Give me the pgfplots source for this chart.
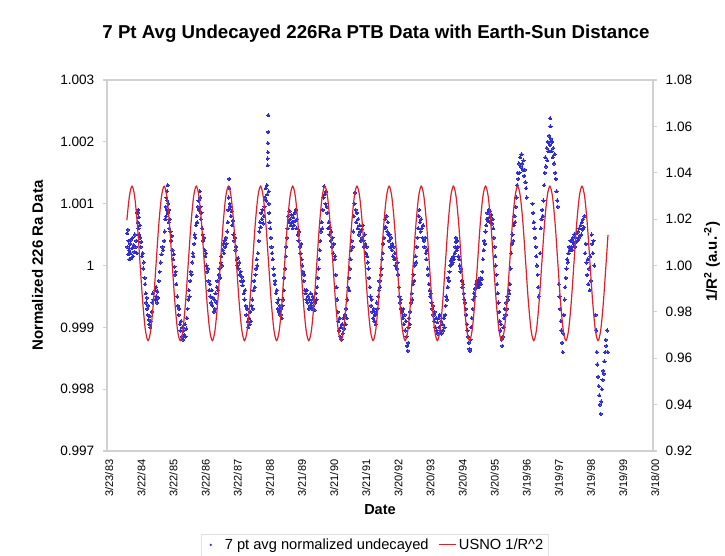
\documentclass[border=0pt]{standalone}
\usepackage{fontspec}
\setmainfont{Liberation Sans}
\usepackage{pgfplots}
\pgfplotsset{compat=1.18}
\definecolor{bluedot}{RGB}{45,45,210}
\definecolor{redline}{RGB}{222,32,44}
\definecolor{framegray}{RGB}{208,208,208}
\begin{document}
\begin{tikzpicture}
\path[use as bounding box] (-80.25pt,-78.75pt) rectangle (463.5pt,338.25pt);
\begin{axis}[
  at={(0,0)}, anchor=south west,
  width=409.5pt, height=278.25pt, scale only axis,
  xmin=1983.222, xmax=2000.210, ymin=0.997, ymax=1.003,
  xtick={1983.222,1984.221,1985.221,1986.220,1987.219,1988.219,1989.218,1990.217,1991.217,1992.216,1993.215,1994.215,1995.214,1996.213,1997.213,1998.212,1999.211,2000.210},
  xticklabels={3/23/83,3/22/84,3/22/85,3/22/86,3/22/87,3/21/88,3/21/89,3/21/90,3/21/91,3/20/92,3/20/93,3/20/94,3/20/95,3/19/96,3/19/97,3/19/98,3/19/99,3/18/00},
  ytick={0.997,0.998,0.999,1,1.001,1.002,1.003},
  yticklabels={0.997,0.998,0.999,1,1.001,1.002,1.003},
  ytick pos=left, xtick pos=bottom,
  tick align=outside, major tick length=3pt,
  axis line style={framegray, line width=0.8pt},
  ytick style={framegray, line width=0.8pt},
  xtick style={draw=none},
  yticklabel style={font=\fontsize{10.2}{12}\selectfont, xshift=-3pt},
  xticklabel style={rotate=90, anchor=east, font=\fontsize{8.25}{9}\selectfont, yshift=-1.7pt},
  legend style={at={(0.49,-0.253)}, anchor=center, legend columns=2, draw=black!12,
    font=\fontsize{11}{13}\selectfont, inner sep=1.5pt,
    /tikz/every even column/.append style={column sep=5pt}},
  legend cell align=left,
]
\addplot[only marks, mark=*, mark size=1.2pt, color=bluedot, mark options={fill=bluedot, draw=bluedot, line width=0pt},
  legend image code/.code={\path[draw=none, fill=none] (0cm,-0.05cm) rectangle (0.5cm,0.05cm); \fill[bluedot, draw=none] (0.2cm,0cm) circle (0.9pt);}] coordinates {
(1983.85,1.00052) (1983.86,1.00030) (1983.87,1.00058) (1983.88,1.00018) (1983.89,1.00040) (1983.91,1.00025) (1983.92,1.00010) (1983.94,1.00035) (1983.95,1.00020) (1983.97,1.00042) (1983.98,1.00012) (1984.00,1.00028) (1984.02,1.00045) (1984.03,1.00015) (1984.05,1.00033) (1984.07,1.00022) (1984.09,1.00050) (1984.11,1.00030) (1984.13,1.00040) (1984.15,1.00020)
(1984.17,1.00085) (1984.18,1.00070) (1984.19,1.00090) (1984.20,1.00060) (1984.21,1.00078) (1984.22,1.00050) (1984.24,1.00065) (1984.25,1.00045)
(1984.27,1.00030) (1984.29,1.00038) (1984.31,1.00015) (1984.33,1.00020) (1984.35,0.99995) (1984.37,1.00005) (1984.39,0.99980) (1984.41,0.99970)
(1984.43,0.99955) (1984.44,0.99940) (1984.46,0.99948) (1984.47,0.99930) (1984.49,0.99920) (1984.50,0.99935) (1984.52,0.99912) (1984.54,0.99905) (1984.55,0.99918) (1984.57,0.99900) (1984.59,0.99910) (1984.61,0.99925)
(1984.63,0.99940) (1984.65,0.99955) (1984.67,0.99945)
(1984.72,0.99960) (1984.73,0.99945) (1984.75,0.99965) (1984.76,0.99950) (1984.78,0.99940) (1984.79,0.99958) (1984.81,0.99948)
(1984.83,0.99975) (1984.86,0.99990) (1984.89,1.00005) (1984.92,1.00018) (1984.95,1.00030) (1984.97,1.00025) (1985.00,1.00040) (1985.02,1.00055)
(1985.04,1.00075) (1985.05,1.00095) (1985.06,1.00080) (1985.07,1.00110) (1985.08,1.00090) (1985.09,1.00120) (1985.10,1.00105) (1985.11,1.00130) (1985.12,1.00085) (1985.13,1.00100) (1985.14,1.00070) (1985.15,1.00090) (1985.16,1.00060) (1985.18,1.00075)
(1985.20,1.00055) (1985.22,1.00040) (1985.24,1.00048) (1985.26,1.00025) (1985.28,1.00010) (1985.30,1.00018) (1985.32,0.99998) (1985.34,0.99985) (1985.36,0.99990) (1985.38,0.99970)
(1985.41,0.99950) (1985.43,0.99935) (1985.45,0.99920) (1985.47,0.99930) (1985.49,0.99905) (1985.51,0.99895) (1985.53,0.99910) (1985.55,0.99885) (1985.57,0.99900) (1985.59,0.99880) (1985.61,0.99895) (1985.63,0.99888) (1985.65,0.99905) (1985.67,0.99885) (1985.69,0.99898) (1985.71,0.99915)
(1985.73,0.99930) (1985.75,0.99945) (1985.77,0.99960) (1985.79,0.99950) (1985.81,0.99975) (1985.83,0.99990) (1985.85,0.99985) (1985.87,1.00005) (1985.89,1.00020) (1985.91,1.00015) (1985.93,1.00035) (1985.95,1.00050) (1985.97,1.00045) (1985.99,1.00065) (1986.01,1.00080) (1986.03,1.00070) (1986.05,1.00095) (1986.07,1.00105) (1986.09,1.00090) (1986.11,1.00120) (1986.12,1.00110)
(1986.13,1.00095) (1986.14,1.00075) (1986.16,1.00085) (1986.18,1.00060) (1986.20,1.00050) (1986.22,1.00040) (1986.24,1.00045) (1986.26,1.00025) (1986.28,1.00015) (1986.30,1.00020) (1986.32,1.00000) (1986.34,0.99990) (1986.36,0.99995) (1986.38,0.99975) (1986.40,0.99960) (1986.42,0.99970)
(1986.44,0.99950) (1986.46,0.99940) (1986.48,0.99960) (1986.50,0.99935) (1986.52,0.99948) (1986.54,0.99925) (1986.56,0.99945) (1986.58,0.99930) (1986.60,0.99955) (1986.62,0.99940) (1986.64,0.99965)
(1986.66,0.99975) (1986.68,0.99960) (1986.70,0.99985) (1986.72,0.99995) (1986.74,0.99980) (1986.76,1.00005) (1986.78,1.00015) (1986.80,1.00000) (1986.82,1.00025) (1986.84,1.00035) (1986.86,1.00020) (1986.88,1.00040) (1986.90,1.00030) (1986.92,1.00045) (1986.94,1.00035) (1986.96,1.00055) (1986.98,1.00070) (1987.00,1.00090) (1987.01,1.00110) (1987.02,1.00140) (1987.03,1.00125) (1987.04,1.00100)
(1987.06,1.00095) (1987.08,1.00080) (1987.10,1.00088) (1987.12,1.00065) (1987.14,1.00072) (1987.16,1.00050) (1987.18,1.00040) (1987.20,1.00045) (1987.22,1.00025) (1987.24,1.00030) (1987.26,1.00010) (1987.28,1.00000)
(1987.30,1.00012) (1987.32,0.99995) (1987.34,1.00005) (1987.36,0.99985) (1987.38,0.99990) (1987.40,0.99975) (1987.42,0.99982) (1987.44,0.99968) (1987.46,0.99975)
(1987.48,0.99955) (1987.50,0.99945) (1987.52,0.99960) (1987.54,0.99935) (1987.56,0.99920) (1987.58,0.99930) (1987.60,0.99910) (1987.62,0.99900) (1987.64,0.99915) (1987.66,0.99905) (1987.68,0.99925) (1987.70,0.99910) (1987.72,0.99935) (1987.74,0.99945) (1987.76,0.99930)
(1987.78,0.99960) (1987.80,0.99975) (1987.82,0.99965) (1987.84,0.99985) (1987.86,0.99995) (1987.88,1.00010) (1987.90,1.00000) (1987.92,1.00020)
(1987.94,1.00040) (1987.96,1.00055) (1987.98,1.00070) (1988.00,1.00062) (1988.02,1.00085) (1988.04,1.00075) (1988.06,1.00090) (1988.08,1.00068) (1988.10,1.00080)
(1988.12,1.00095) (1988.14,1.00110) (1988.16,1.00125) (1988.18,1.00105) (1988.20,1.00130) (1988.21,1.00115) (1988.22,1.00162) (1988.22,1.00173) (1988.23,1.00183) (1988.23,1.00198) (1988.24,1.00216) (1988.24,1.00243) (1988.25,1.00120) (1988.26,1.00100)
(1988.27,1.00085) (1988.28,1.00070) (1988.30,1.00060) (1988.32,1.00045) (1988.34,1.00030) (1988.36,1.00020) (1988.38,1.00010) (1988.40,0.99995)
(1988.42,0.99985) (1988.44,0.99970) (1988.46,0.99975) (1988.48,0.99955) (1988.50,0.99960) (1988.52,0.99940) (1988.54,0.99930) (1988.56,0.99945) (1988.58,0.99925) (1988.60,0.99935) (1988.62,0.99920) (1988.64,0.99930) (1988.66,0.99915) (1988.68,0.99935) (1988.70,0.99945)
(1988.72,0.99960) (1988.74,0.99980) (1988.76,0.99995) (1988.78,1.00015) (1988.80,1.00030) (1988.82,1.00045)
(1988.84,1.00060) (1988.86,1.00080) (1988.88,1.00070) (1988.90,1.00088) (1988.92,1.00075) (1988.94,1.00065) (1988.96,1.00082) (1988.98,1.00070) (1989.00,1.00060) (1989.02,1.00078) (1989.04,1.00065)
(1989.06,1.00085) (1989.08,1.00072) (1989.10,1.00090) (1989.12,1.00060) (1989.14,1.00075) (1989.16,1.00050) (1989.18,1.00040) (1989.20,1.00055) (1989.22,1.00030) (1989.24,1.00020) (1989.26,1.00035) (1989.28,1.00010) (1989.30,1.00000)
(1989.32,0.99990) (1989.34,0.99975) (1989.36,0.99985) (1989.38,0.99960) (1989.40,0.99955) (1989.42,0.99945) (1989.44,0.99960) (1989.46,0.99940) (1989.48,0.99950) (1989.50,0.99930) (1989.52,0.99945)
(1989.54,0.99935) (1989.56,0.99955) (1989.58,0.99940) (1989.60,0.99930) (1989.62,0.99950) (1989.64,0.99935) (1989.66,0.99945) (1989.68,0.99928) (1989.70,0.99940) (1989.72,0.99955) (1989.74,0.99945)
(1989.76,0.99965) (1989.78,0.99980) (1989.80,0.99995) (1989.82,1.00010) (1989.84,1.00025) (1989.86,1.00040) (1989.88,1.00055) (1989.90,1.00070) (1989.92,1.00060)
(1989.94,1.00090) (1989.96,1.00110) (1989.98,1.00128) (1990.00,1.00115) (1990.02,1.00100) (1990.04,1.00120) (1990.06,1.00095) (1990.08,1.00085)
(1990.10,1.00060) (1990.12,1.00070) (1990.14,1.00050) (1990.16,1.00062) (1990.18,1.00040) (1990.20,1.00055) (1990.22,1.00030) (1990.24,1.00045) (1990.26,1.00020) (1990.28,1.00035) (1990.30,1.00010) (1990.32,1.00015)
(1990.34,0.99985) (1990.36,0.99965) (1990.38,0.99945) (1990.40,0.99925) (1990.42,0.99910)
(1990.44,0.99895) (1990.46,0.99915) (1990.48,0.99885) (1990.50,0.99900) (1990.52,0.99880) (1990.54,0.99905) (1990.56,0.99890) (1990.58,0.99915) (1990.60,0.99898) (1990.62,0.99920) (1990.64,0.99905) (1990.66,0.99930) (1990.68,0.99915)
(1990.70,0.99945) (1990.72,0.99965) (1990.74,0.99980) (1990.76,0.99960) (1990.78,0.99995) (1990.80,1.00010) (1990.82,1.00025) (1990.84,1.00040) (1990.86,1.00030)
(1990.88,1.00055) (1990.90,1.00080) (1990.92,1.00100) (1990.94,1.00118) (1990.96,1.00090) (1990.98,1.00070) (1991.00,1.00085) (1991.02,1.00060) (1991.04,1.00075) (1991.06,1.00050) (1991.08,1.00065)
(1991.10,1.00055) (1991.12,1.00040) (1991.14,1.00058) (1991.16,1.00045) (1991.18,1.00065) (1991.20,1.00040) (1991.22,1.00030) (1991.24,1.00050) (1991.26,1.00035) (1991.28,1.00020) (1991.30,1.00030) (1991.32,1.00015) (1991.34,1.00005) (1991.36,0.99995)
(1991.38,0.99980) (1991.40,0.99965) (1991.42,0.99950) (1991.44,0.99935) (1991.46,0.99945) (1991.48,0.99925) (1991.50,0.99915) (1991.52,0.99930) (1991.54,0.99910) (1991.56,0.99920) (1991.58,0.99905) (1991.60,0.99925) (1991.62,0.99940) (1991.64,0.99930) (1991.66,0.99950)
(1991.68,0.99960) (1991.70,0.99975) (1991.72,0.99965) (1991.74,0.99985) (1991.76,0.99995) (1991.78,1.00010) (1991.80,1.00020) (1991.82,1.00035)
(1991.84,1.00045) (1991.86,1.00060) (1991.88,1.00075) (1991.90,1.00062) (1991.92,1.00080) (1991.94,1.00055) (1991.96,1.00070) (1991.98,1.00050)
(1992.00,1.00040) (1992.02,1.00050) (1992.04,1.00030) (1992.06,1.00045) (1992.08,1.00025) (1992.10,1.00035) (1992.12,1.00015) (1992.14,1.00030) (1992.16,1.00010) (1992.18,1.00020) (1992.20,1.00000) (1992.22,1.00012) (1992.24,0.99995) (1992.26,1.00005) (1992.28,0.99985)
(1992.30,0.99965) (1992.32,0.99950) (1992.34,0.99940) (1992.36,0.99945) (1992.38,0.99930) (1992.40,0.99925)
(1992.42,0.99915) (1992.44,0.99930) (1992.46,0.99905) (1992.48,0.99920) (1992.50,0.99895) (1992.52,0.99910) (1992.54,0.99885) (1992.56,0.99870) (1992.58,0.99862) (1992.59,0.99875) (1992.60,0.99900) (1992.62,0.99915) (1992.64,0.99905) (1992.66,0.99925)
(1992.68,0.99940) (1992.70,0.99955) (1992.72,0.99945) (1992.74,0.99970) (1992.76,0.99985) (1992.78,0.99975) (1992.80,1.00000) (1992.82,1.00015) (1992.84,1.00005) (1992.86,1.00030) (1992.88,1.00045)
(1992.90,1.00060) (1992.92,1.00080) (1992.94,1.00090) (1992.96,1.00070) (1992.98,1.00055) (1993.00,1.00075) (1993.02,1.00060) (1993.04,1.00045) (1993.06,1.00065)
(1993.08,1.00040) (1993.10,1.00030) (1993.12,1.00045) (1993.14,1.00020) (1993.16,1.00010) (1993.18,1.00025) (1993.20,0.99995) (1993.22,0.99985) (1993.24,0.99970) (1993.26,0.99960) (1993.28,0.99950) (1993.30,0.99955) (1993.32,0.99940) (1993.34,0.99930) (1993.36,0.99935) (1993.38,0.99920)
(1993.40,0.99910) (1993.42,0.99925) (1993.44,0.99900) (1993.46,0.99915) (1993.48,0.99895) (1993.50,0.99908) (1993.52,0.99890) (1993.54,0.99915) (1993.56,0.99900) (1993.58,0.99920) (1993.60,0.99895) (1993.62,0.99910) (1993.64,0.99890) (1993.66,0.99905) (1993.68,0.99895) (1993.70,0.99915) (1993.72,0.99900) (1993.74,0.99920)
(1993.76,0.99935) (1993.78,0.99950) (1993.80,0.99945) (1993.82,0.99965) (1993.84,0.99980) (1993.86,0.99975) (1993.88,0.99990) (1993.90,1.00000)
(1993.92,1.00008) (1993.94,1.00002) (1993.96,1.00012) (1993.98,1.00005) (1994.00,1.00015) (1994.02,1.00010) (1994.04,1.00020) (1994.06,1.00030) (1994.08,1.00045) (1994.09,1.00038) (1994.10,1.00025) (1994.12,1.00040) (1994.14,1.00030) (1994.16,1.00015)
(1994.18,1.00010) (1994.20,1.00000) (1994.22,0.99990) (1994.24,0.99995) (1994.26,0.99975) (1994.28,0.99965) (1994.30,0.99970) (1994.32,0.99955) (1994.34,0.99945) (1994.36,0.99940)
(1994.38,0.99930) (1994.40,0.99920) (1994.42,0.99905) (1994.44,0.99895) (1994.46,0.99885) (1994.48,0.99875) (1994.50,0.99865) (1994.51,0.99862) (1994.53,0.99880) (1994.55,0.99900) (1994.57,0.99915)
(1994.60,0.99930) (1994.62,0.99945) (1994.64,0.99955) (1994.66,0.99950) (1994.68,0.99962) (1994.70,0.99970) (1994.72,0.99965) (1994.74,0.99975)
(1994.76,0.99968) (1994.78,0.99975) (1994.80,0.99965) (1994.82,0.99972) (1994.84,0.99980) (1994.86,0.99970) (1994.88,0.99978) (1994.90,0.99990)
(1994.92,1.00010) (1994.94,1.00025) (1994.96,1.00040) (1994.98,1.00035) (1995.00,1.00055) (1995.02,1.00065) (1995.04,1.00075)
(1995.06,1.00085) (1995.08,1.00072) (1995.10,1.00090) (1995.12,1.00078) (1995.14,1.00088) (1995.16,1.00070) (1995.18,1.00082) (1995.20,1.00068) (1995.22,1.00075) (1995.24,1.00060)
(1995.26,1.00045) (1995.28,1.00030) (1995.30,1.00015) (1995.32,1.00000) (1995.34,0.99985) (1995.36,0.99970) (1995.38,0.99955) (1995.40,0.99940)
(1995.42,0.99925) (1995.44,0.99910) (1995.46,0.99895) (1995.48,0.99905) (1995.50,0.99880) (1995.52,0.99870) (1995.54,0.99885) (1995.56,0.99900)
(1995.58,0.99915) (1995.60,0.99930) (1995.62,0.99920) (1995.64,0.99940) (1995.66,0.99930) (1995.68,0.99950) (1995.70,0.99945) (1995.72,0.99960) (1995.74,0.99955) (1995.76,0.99970)
(1995.78,0.99995) (1995.80,1.00020) (1995.82,1.00035) (1995.84,1.00050) (1995.86,1.00040) (1995.88,1.00065) (1995.90,1.00080) (1995.92,1.00070) (1995.94,1.00095) (1995.96,1.00110)
(1995.98,1.00130) (1996.00,1.00150) (1996.02,1.00140) (1996.04,1.00165) (1996.06,1.00150) (1996.08,1.00175) (1996.10,1.00160) (1996.12,1.00180) (1996.14,1.00165) (1996.16,1.00155) (1996.18,1.00170) (1996.20,1.00145) (1996.22,1.00155) (1996.24,1.00135) (1996.26,1.00125) (1996.28,1.00110)
(1996.46,1.00100) (1996.48,1.00085) (1996.50,1.00070) (1996.52,1.00060) (1996.54,1.00045) (1996.56,1.00030) (1996.58,1.00015) (1996.60,1.00000) (1996.62,0.99985) (1996.64,0.99965) (1996.66,0.99950)
(1996.70,1.00020) (1996.72,1.00060) (1996.74,1.00075) (1996.76,1.00090) (1996.78,1.00080) (1996.80,1.00105)
(1996.82,1.00130) (1996.84,1.00150) (1996.86,1.00175) (1996.88,1.00160) (1996.90,1.00190) (1996.92,1.00170) (1996.94,1.00200) (1996.96,1.00185) (1996.98,1.00210) (1997.00,1.00195) (1997.01,1.00238) (1997.02,1.00225) (1997.03,1.00205) (1997.05,1.00185) (1997.07,1.00200) (1997.09,1.00175) (1997.11,1.00190) (1997.13,1.00165) (1997.15,1.00180) (1997.17,1.00150) (1997.19,1.00140) (1997.21,1.00120) (1997.23,1.00105) (1997.25,1.00095)
(1997.28,0.99970) (1997.30,0.99950) (1997.32,0.99930) (1997.34,0.99910) (1997.36,0.99895) (1997.38,0.99875) (1997.40,0.99860)
(1997.42,0.99890) (1997.44,0.99920) (1997.46,0.99945) (1997.48,0.99965) (1997.50,0.99980) (1997.52,0.99995) (1997.54,1.00010) (1997.56,1.00005) (1997.58,1.00020) (1997.60,1.00030) (1997.62,1.00025) (1997.64,1.00040)
(1997.66,1.00030) (1997.68,1.00040) (1997.70,1.00025) (1997.72,1.00045) (1997.74,1.00035) (1997.76,1.00050) (1997.78,1.00030) (1997.80,1.00045) (1997.82,1.00038) (1997.84,1.00052) (1997.86,1.00040) (1997.88,1.00055) (1997.90,1.00045) (1997.92,1.00060) (1997.94,1.00048) (1997.96,1.00065) (1997.98,1.00050) (1998.00,1.00070) (1998.02,1.00058) (1998.04,1.00075) (1998.06,1.00062) (1998.08,1.00080)
(1998.10,1.00020) (1998.12,1.00035) (1998.14,1.00005) (1998.16,0.99985) (1998.18,1.00010) (1998.20,0.99970) (1998.22,0.99995) (1998.24,0.99960) (1998.26,1.00015) (1998.28,0.99975) (1998.30,1.00050) (1998.32,1.00035) (1998.34,1.00020) (1998.36,1.00040) (1998.38,1.00000)
(1998.42,0.99920) (1998.44,0.99895) (1998.46,0.99860) (1998.48,0.99840) (1998.50,0.99820) (1998.52,0.99805) (1998.54,0.99790) (1998.56,0.99775) (1998.58,0.99760) (1998.60,0.99780) (1998.62,0.99800) (1998.64,0.99815) (1998.66,0.99830) (1998.68,0.99825) (1998.70,0.99845) (1998.72,0.99860) (1998.74,0.99880) (1998.76,0.99870) (1998.78,0.99895) (1998.80,0.99860)
};
\addlegendentry{7 pt avg normalized undecayed}
\addlegendimage{redline, line width=0.9pt, legend image code/.code={\draw[redline, line width=0.9pt] (0cm,0cm) -- (0.45cm,0cm);}}
\addlegendentry{USNO 1/R\textasciicircum 2}
\end{axis}
\begin{axis}[
  at={(0,0)}, anchor=south west,
  width=409.5pt, height=278.25pt, scale only axis,
  xmin=1983.222, xmax=2000.210, ymin=0.92, ymax=1.08,
  axis x line=none, axis y line*=right,
  ytick={0.92,0.94,0.96,0.98,1.00,1.02,1.04,1.06,1.08},
  yticklabels={0.92,0.94,0.96,0.98,1.00,1.02,1.04,1.06,1.08},
  tick align=outside, major tick length=3pt,
  axis line style={framegray, line width=0.8pt},
  ytick style={framegray, line width=0.8pt},
  yticklabel style={font=\fontsize{10.2}{12}\selectfont, xshift=3pt},
]
\addplot[smooth, color=redline, line width=0.9pt] coordinates {
(1983.840,1.0195) (1983.917,1.0297)
(1984.000,1.0342) (1984.083,1.0297) (1984.167,1.0176) (1984.250,1.0009) (1984.333,0.9843) (1984.417,0.9721) (1984.500,0.9676) (1984.583,0.9721) (1984.667,0.9843) (1984.750,1.0009) (1984.833,1.0176) (1984.917,1.0297)
(1985.000,1.0342) (1985.083,1.0297) (1985.167,1.0176) (1985.250,1.0009) (1985.333,0.9843) (1985.417,0.9721) (1985.500,0.9676) (1985.583,0.9721) (1985.667,0.9843) (1985.750,1.0009) (1985.833,1.0176) (1985.917,1.0297)
(1986.000,1.0342) (1986.083,1.0297) (1986.167,1.0176) (1986.250,1.0009) (1986.333,0.9843) (1986.417,0.9721) (1986.500,0.9676) (1986.583,0.9721) (1986.667,0.9843) (1986.750,1.0009) (1986.833,1.0176) (1986.917,1.0297)
(1987.000,1.0342) (1987.083,1.0297) (1987.167,1.0176) (1987.250,1.0009) (1987.333,0.9843) (1987.417,0.9721) (1987.500,0.9676) (1987.583,0.9721) (1987.667,0.9843) (1987.750,1.0009) (1987.833,1.0176) (1987.917,1.0297)
(1988.000,1.0342) (1988.083,1.0297) (1988.167,1.0176) (1988.250,1.0009) (1988.333,0.9843) (1988.417,0.9721) (1988.500,0.9676) (1988.583,0.9721) (1988.667,0.9843) (1988.750,1.0009) (1988.833,1.0176) (1988.917,1.0297)
(1989.000,1.0342) (1989.083,1.0297) (1989.167,1.0176) (1989.250,1.0009) (1989.333,0.9843) (1989.417,0.9721) (1989.500,0.9676) (1989.583,0.9721) (1989.667,0.9843) (1989.750,1.0009) (1989.833,1.0176) (1989.917,1.0297)
(1990.000,1.0342) (1990.083,1.0297) (1990.167,1.0176) (1990.250,1.0009) (1990.333,0.9843) (1990.417,0.9721) (1990.500,0.9676) (1990.583,0.9721) (1990.667,0.9843) (1990.750,1.0009) (1990.833,1.0176) (1990.917,1.0297)
(1991.000,1.0342) (1991.083,1.0297) (1991.167,1.0176) (1991.250,1.0009) (1991.333,0.9843) (1991.417,0.9721) (1991.500,0.9676) (1991.583,0.9721) (1991.667,0.9843) (1991.750,1.0009) (1991.833,1.0176) (1991.917,1.0297)
(1992.000,1.0342) (1992.083,1.0297) (1992.167,1.0176) (1992.250,1.0009) (1992.333,0.9843) (1992.417,0.9721) (1992.500,0.9676) (1992.583,0.9721) (1992.667,0.9843) (1992.750,1.0009) (1992.833,1.0176) (1992.917,1.0297)
(1993.000,1.0342) (1993.083,1.0297) (1993.167,1.0176) (1993.250,1.0009) (1993.333,0.9843) (1993.417,0.9721) (1993.500,0.9676) (1993.583,0.9721) (1993.667,0.9843) (1993.750,1.0009) (1993.833,1.0176) (1993.917,1.0297)
(1994.000,1.0342) (1994.083,1.0297) (1994.167,1.0176) (1994.250,1.0009) (1994.333,0.9843) (1994.417,0.9721) (1994.500,0.9676) (1994.583,0.9721) (1994.667,0.9843) (1994.750,1.0009) (1994.833,1.0176) (1994.917,1.0297)
(1995.000,1.0342) (1995.083,1.0297) (1995.167,1.0176) (1995.250,1.0009) (1995.333,0.9843) (1995.417,0.9721) (1995.500,0.9676) (1995.583,0.9721) (1995.667,0.9843) (1995.750,1.0009) (1995.833,1.0176) (1995.917,1.0297)
(1996.000,1.0342) (1996.083,1.0297) (1996.167,1.0176) (1996.250,1.0009) (1996.333,0.9843) (1996.417,0.9721) (1996.500,0.9676) (1996.583,0.9721) (1996.667,0.9843) (1996.750,1.0009) (1996.833,1.0176) (1996.917,1.0297)
(1997.000,1.0342) (1997.083,1.0297) (1997.167,1.0176) (1997.250,1.0009) (1997.333,0.9843) (1997.417,0.9721) (1997.500,0.9676) (1997.583,0.9721) (1997.667,0.9843) (1997.750,1.0009) (1997.833,1.0176) (1997.917,1.0297)
(1998.000,1.0342) (1998.083,1.0297) (1998.167,1.0176) (1998.250,1.0009) (1998.333,0.9843) (1998.417,0.9721) (1998.500,0.9676) (1998.583,0.9721) (1998.667,0.9843) (1998.750,1.0009) (1998.810,1.0132)
};
\end{axis}
\node[font=\bfseries\fontsize{14}{16}\selectfont] at (201.75pt,312.75pt) {7 Pt Avg Undecayed 226Ra PTB Data with Earth-Sun Distance};
\node[rotate=90, font=\bfseries\fontsize{11.25}{13}\selectfont] at (-52.1pt,139.1pt) {Normalized 226 Ra Data};
\node[rotate=90, font=\bfseries\fontsize{11.25}{13}\selectfont] at (453.75pt,142pt) {1/R\textsuperscript{2} (a.u.\textsuperscript{-2})};
\node[font=\bfseries\fontsize{10.9}{13}\selectfont] at (204.75pt,-44.25pt) {Date};
\end{tikzpicture}
\end{document}
